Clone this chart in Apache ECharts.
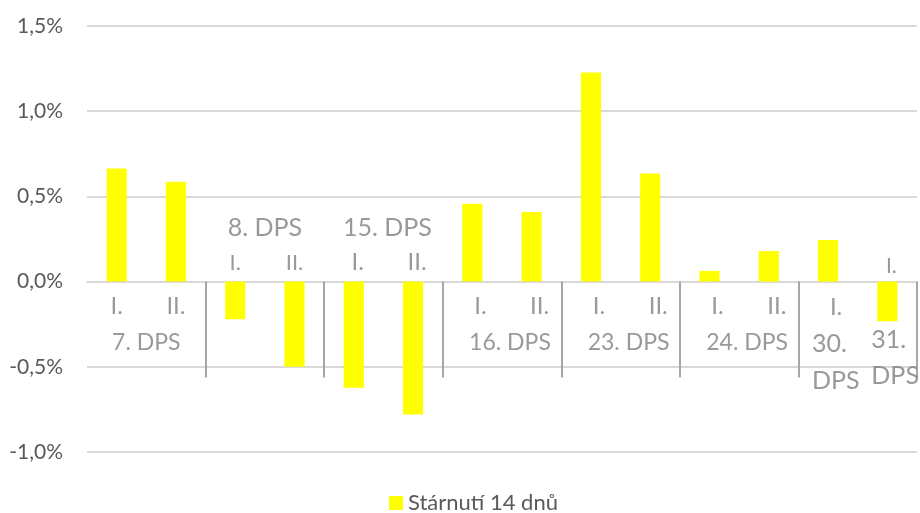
<!DOCTYPE html>
<html>
<head>
<meta charset="utf-8">
<script src="https://cdn.jsdelivr.net/npm/echarts@6/dist/echarts.min.js"></script>
<style>
html, body { margin: 0; padding: 0; background: #fff; }
#chart { width: 920px; height: 513px; }
</style>
</head>
<body>
<div id="chart"></div>
<script>
const categories = ['I.', 'II.', 'I.', 'II.', 'I.', 'II.', 'I.', 'II.', 'I.', 'II.', 'I.', 'II.', 'I.', 'I.'];
const groups = ['7. DPS', '8. DPS', '15. DPS', '16. DPS', '23. DPS', '24. DPS', '30. DPS', '31. DPS'];
const groupSizes = [2, 2, 2, 2, 2, 2, 1, 1];
const values = [0.663, 0.586, -0.221, -0.5, -0.623, -0.78, 0.457, 0.408, 1.227, 0.634, 0.063, 0.179, 0.244, -0.233];
const seriesName = 'Stárnutí 14 dnů';
const yMin = -1, yMax = 1.5, yStep = 0.5;

const FONT = 'Lato';
const GRAY = '#7f7f7f';

// where the labels sit around the zero line (Excel moved some of them above)
const groupLayout = [
    { mode: 'below', dx: 0 },
    { mode: 'above', dx: 0, catSize: 22 },
    { mode: 'above', dx: 4, catSize: 24 },
    { mode: 'below', dx: 8 },
    { mode: 'below', dx: 8 },
    { mode: 'below', dx: 8 },
    { mode: 'wrap', dx: 8, catDy: 26, catSize: 24, nameDy: 81, lineHeight: 37 },
    { mode: 'wrap', dx: 4, catDy: -15, catSize: 21, nameDy: 76, lineHeight: 36 }
];

const groupStart = [];
let acc = 0;
groupSizes.forEach(n => { groupStart.push(acc); acc += n; });

// separator ticks between groups (none between 30. and 31. in the original)
const separators = groupStart.filter(i => i > 0 && i < 13);

const labelData = [];
groups.forEach((g, gi) => {
    const L = groupLayout[gi];
    const start = groupStart[gi];
    const size = groupSizes[gi];
    for (let k = 0; k < size; k++) {
        const i = start + k;
        let dy = 25, fs = 24;
        if (L.mode === 'above') { dy = -19; fs = L.catSize; }
        if (L.mode === 'wrap') { dy = L.catDy; fs = L.catSize; }
        labelData.push({
            name: categories[i],
            value: [i, 0],
            label: { offset: [L.dx, dy], fontSize: fs }
        });
    }
    const cx = start + (size - 1) / 2;
    if (L.mode === 'wrap') {
        labelData.push({
            name: g.replace(' ', '\n'),
            value: [cx, 0],
            label: { offset: [-16, L.nameDy], fontSize: 25, align: 'left', lineHeight: L.lineHeight }
        });
    } else {
        labelData.push({
            name: g,
            value: [cx, 0],
            label: L.mode === 'above'
                ? { offset: [L.dx, -54], fontSize: 25 }
                : { offset: [L.dx, 61], fontSize: 23 }
        });
    }
});

const chart = echarts.init(document.getElementById('chart'));

chart.setOption({
    animation: false,
    backgroundColor: '#fff',
    grid: { left: 87, right: 3, top: 26, bottom: 61, containLabel: false },
    legend: {
        data: [seriesName],
        top: 492,
        left: 389,
        padding: 0,
        icon: 'rect',
        itemWidth: 14,
        itemHeight: 14,
        itemGap: 4,
        textStyle: { fontFamily: FONT, fontSize: 22, color: '#595959' }
    },
    xAxis: [
        {
            type: 'category',
            data: categories,
            axisLine: { onZero: true, lineStyle: { color: '#d9d9d9', width: 2 } },
            axisTick: {
                show: true,
                length: 96,
                interval: (idx) => separators.includes(idx),
                lineStyle: { color: '#a6a6a6', width: 2 }
            },
            axisLabel: { show: false },
            splitLine: { show: false }
        },
        {
            type: 'value',
            min: -0.5,
            max: categories.length - 0.5,
            show: false
        }
    ],
    yAxis: {
        type: 'value',
        min: yMin,
        max: yMax,
        interval: yStep,
        axisLine: { show: false },
        axisTick: { show: false },
        axisLabel: {
            margin: 24,
            fontFamily: FONT,
            fontSize: 21,
            color: '#595959',
            formatter: v => v.toFixed(1).replace('.', ',') + '%'
        },
        splitLine: { lineStyle: { color: '#d9d9d9', width: 2 } }
    },
    series: [
        {
            name: seriesName,
            type: 'bar',
            data: values,
            barWidth: '34%',
            itemStyle: { color: '#ffff00' }
        },
        {
            type: 'scatter',
            xAxisIndex: 1,
            symbolSize: 0,
            silent: true,
            z: 5,
            label: {
                show: true,
                position: 'inside',
                formatter: '{b}',
                fontFamily: FONT,
                color: GRAY
            },
            data: labelData
        }
    ]
});
</script>
</body>
</html>
